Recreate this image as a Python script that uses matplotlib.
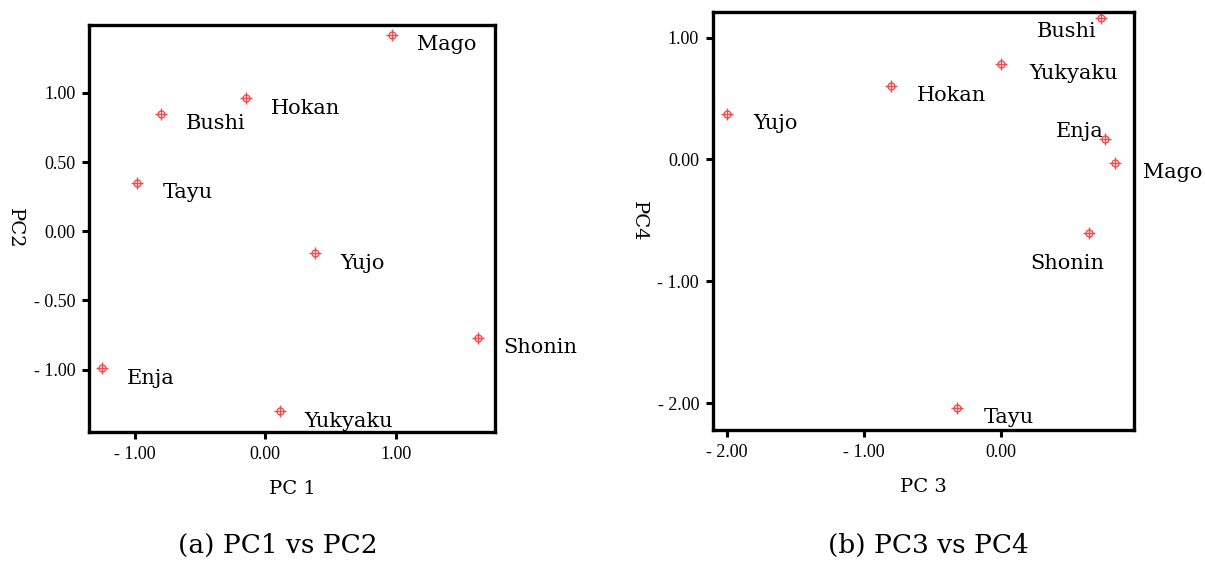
import matplotlib
matplotlib.use('Agg')
import matplotlib.pyplot as plt
import numpy as np

names = ['Mago', 'Hokan', 'Bushi', 'Tayu', 'Yujo', 'Shonin', 'Enja', 'Yukyaku']

# component scores
pc1 = [0.97, -0.15, -0.80, -0.98, 0.38, 1.63, -1.25, 0.11]
pc2 = [1.42, 0.96, 0.85, 0.35, -0.16, -0.77, -0.99, -1.30]
pc3 = [0.83, -0.80, 0.73, -0.32, -2.00, 0.64, 0.76, 0.00]
pc4 = [-0.03, 0.60, 1.16, -2.04, 0.37, -0.60, 0.17, 0.78]

xticks_a = [-1.0, 0.0, 1.0]
xlabels_a = ['- 1.00', '0.00', '1.00']
yticks_a = [-1.0, -0.5, 0.0, 0.5, 1.0]
ylabels_a = ['- 1.00', '- 0.50', '0.00', '0.50', '1.00']

xticks_b = [-2.0, -1.0, 0.0]
xlabels_b = ['- 2.00', '- 1.00', '0.00']
yticks_b = [-2.0, -1.0, 0.0, 1.0]
ylabels_b = ['- 2.00', '- 1.00', '0.00', '1.00']

# label placement (pixels from the point, and alignment)
off_a = {n: (25, -10, 'left') for n in names}
off_b = {
    'Mago': (28, -9, 'left'),
    'Hokan': (26, -9, 'left'),
    'Bushi': (-5, -13, 'right'),
    'Tayu': (27, -9, 'left'),
    'Yujo': (27, -9, 'left'),
    'Shonin': (-59, -31, 'left'),
    'Enja': (-2, 7, 'right'),
    'Yukyaku': (28, -9, 'left'),
}

serif = ['DejaVu Serif']
plt.rcParams['font.family'] = ['Liberation Serif', 'DejaVu Serif']
red = '#f24b4b'

fig = plt.figure(figsize=(12.05, 5.62), dpi=100)
ax1 = fig.add_axes([0.0739, 0.2313, 0.3369, 0.7242])
ax2 = fig.add_axes([0.5917, 0.2349, 0.3494, 0.7438])


def draw(ax, xs, ys, offs, xt, xl, yt, yl, xlim, ylim, xlab, ylab):
    ax.plot(xs, ys, 'o', ms=5, mfc='none', mec=red, mew=1.0, clip_on=False)
    ax.plot(xs, ys, '+', ms=9, color=red, mew=1.0, clip_on=False)
    for n, x, y in zip(names, xs, ys):
        dx, dy, ha = offs[n]
        ax.annotate(n, (x, y), xytext=(dx, dy), textcoords='offset pixels',
                    ha=ha, va='center', fontsize=15, family=serif,
                    annotation_clip=False)
    ax.set_xlim(*xlim)
    ax.set_ylim(*ylim)
    ax.set_xticks(xt)
    ax.set_xticklabels(xl)
    ax.set_yticks(yt)
    ax.set_yticklabels(yl)
    for s in ax.spines.values():
        s.set_linewidth(2.4)
    ax.tick_params(direction='out', length=5, width=2.2, labelsize=13, pad=5)
    ax.set_xlabel(xlab, fontsize=14, family=serif, labelpad=12)
    ax.set_ylabel(ylab, fontsize=14, family=serif, rotation=-90, labelpad=20)


draw(ax1, pc1, pc2, off_a, xticks_a, xlabels_a, yticks_a, ylabels_a,
     (-1.35, 1.76), (-1.45, 1.49), 'PC 1', 'PC2')
draw(ax2, pc3, pc4, off_b, xticks_b, xlabels_b, yticks_b, ylabels_b,
     (-2.10, 0.97), (-2.22, 1.21), 'PC 3', 'PC4')

fig.text(278 / 1205, 1 - 545 / 562, '(a) PC1 vs PC2', ha='center', va='center',
         fontsize=19, family=serif)
fig.text(928 / 1205, 1 - 545 / 562, '(b) PC3 vs PC4', ha='center', va='center',
         fontsize=19, family=serif)

fig.savefig('out.png', dpi=100)
